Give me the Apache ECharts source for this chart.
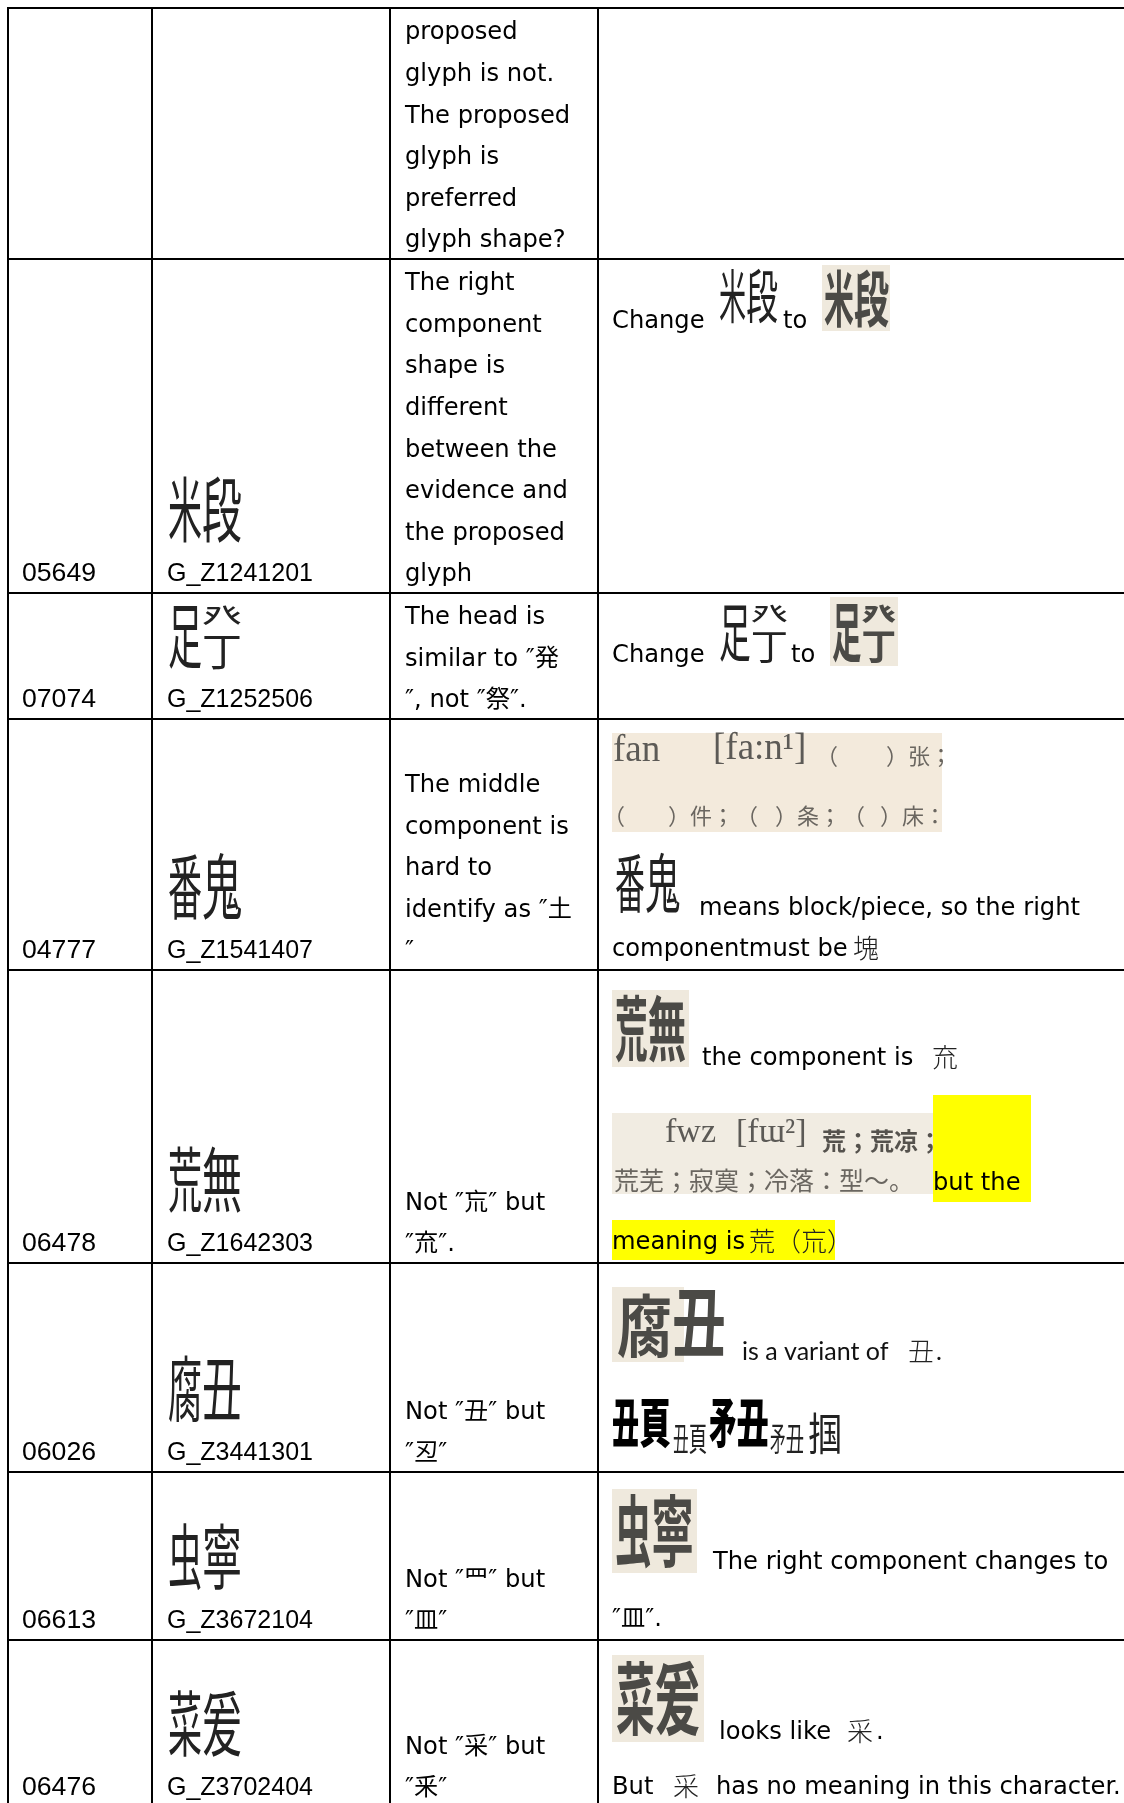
<!DOCTYPE html>
<html>
<head>
<meta charset="utf-8">
<title>Glyph review table</title>
<style>
  html, body { margin: 0; padding: 0; background: #fff; }
  #chart { width: 1124px; height: 1803px; }
</style>
<script src="https://cdn.jsdelivr.net/npm/echarts@6/dist/echarts.min.js"></script>
</head>
<body>
<div id="chart"></div>
<script>
// table content
const serials = ['', '05649', '07074', '04777', '06478', '06026', '06613', '06476']
const glyphIds = ['', 'G_Z1241201', 'G_Z1252506', 'G_Z1541407', 'G_Z1642303', 'G_Z3441301', 'G_Z3672104', 'G_Z3702404']
// proposed glyphs are not encoded, so they are composed: left|right, or left|top/bottom
const glyphParts = ['', '米|段', '足|癶/丁', '番|鬼', '荒|無', '腐|丑', '虫|寧', '菜|爰']
const reviewLines = [
    ['proposed', 'glyph is not.', 'The proposed', 'glyph is', 'preferred', 'glyph shape?'],
    ['The right', 'component', 'shape is', 'different', 'between the', 'evidence and', 'the proposed', 'glyph'],
    ['The head is', 'similar to ″発', '″, not ″祭″.'],
    ['The middle', 'component is', 'hard to', 'identify as ″土', '″'],
    ['Not ″巟″ but', '″㐬″.'],
    ['Not ″丑″ but', '″丒″'],
    ['Not ″罒″ but', '″皿″'],
    ['Not ″采″ but', '″釆″']
]
const noteTexts = [
    [],
    ['Change', '米|段', 'to', '米|段'],
    ['Change', '足|癶/丁', 'to', '足|癶/丁'],
    ['fan', '[fa:n¹]', '（', '）张；', '（', '）件；', '（', '）条；', '（', '）床：', '番|鬼', 'means block/piece, so the right', 'componentmust be', '塊'],
    ['荒|無', 'the component is', '㐬', 'fwz', '[fɯ²]', '荒；荒凉；', '荒芜；寂寞；冷落：型～。', 'but the', 'meaning is', '荒（巟）'],
    ['腐', '丑', 'is a variant of', '丑', '.', '丑|頁', '丑|頁', '矛|丑', '矛|丑', '掴'],
    ['虫|寧', 'The right component changes to', '″皿″.'],
    ['菜|爰', 'looks like', '采', '.', 'But', '采', 'has no meaning in this character.']
]

// layout of the table, in page pixels
const colEdges = [8, 152, 390, 598, 1140]
const rowEdges = [8, 259, 593, 719, 970, 1263, 1472, 1640, 1807]
const textInset = 14
const lineGap = 41.6
const baselineInset = 10

// backing rectangles of the pasted scans and the highlighter: [left, top, right, bottom, colour]
const beige = '#efe9dd'
const yellow = '#ffff00'
const patches = [
    [822, 265, 890, 331, beige],
    [830, 597, 898, 666, beige],
    [612, 733, 942, 832, '#f3eadc'],
    [612, 990, 689, 1067, beige],
    [933, 1095, 1031, 1202, yellow],
    [612, 1113, 933, 1194, '#f1ece2'],
    [612, 1220, 835, 1260, yellow],
    [612, 1287, 684, 1362, beige],
    [612, 1489, 697, 1573, beige],
    [612, 1655, 704, 1742, beige]
]

// where each note text sits, same order as noteTexts: text is [style, x, baseline], glyph is [style, left, top, right, bottom]
const noteSpots = [
    [],
    [['sans', 612, 330], ['print', 719, 267, 778, 325], ['sans', 783, 330], ['scan', 824, 268, 889, 329]],
    [['sans', 612, 664], ['print', 719, 600, 788, 664], ['sans', 791, 664], ['scan', 832, 600, 896, 664]],
    [['serifBig', 613, 762], ['serifBig', 713, 760], ['scanText', 816, 764], ['scanText', 886, 764],
     ['scanText', 603, 824], ['scanText', 668, 824], ['scanText', 736, 824], ['scanText', 775, 824], ['scanText', 843, 824], ['scanText', 880, 824],
     ['print', 615, 851, 680, 915], ['sans', 699, 917], ['sans', 612, 958], ['thin', 853, 958]],
    [['scan', 615, 993, 686, 1064], ['sans', 702, 1067], ['thin', 932, 1067], ['serifMid', 665, 1143], ['serifMid', 736, 1143],
     ['scanDark', 822, 1150], ['scanWide', 614, 1190], ['sans', 933, 1192], ['sans', 612, 1251], ['thin', 749, 1251]],
    [['scan', 617, 1292, 672, 1360], ['scan', 672, 1284, 726, 1360], ['lato', 742, 1361], ['thin', 908, 1361], ['lato', 936, 1361],
     ['bold', 612, 1396, 671, 1449], ['print', 673, 1422, 707, 1455], ['bold', 709, 1396, 769, 1449], ['print', 770, 1422, 804, 1455], ['print', 808, 1411, 842, 1456]],
    [['scan', 615, 1492, 694, 1570], ['sans', 713, 1571], ['sans', 612, 1628]],
    [['scan', 616, 1659, 700, 1738], ['sans', 719, 1741], ['thin', 847, 1741], ['sans', 876, 1741], ['sans', 612, 1796], ['thin', 673, 1796], ['sans', 716, 1796]]
]

const latin = '"DejaVu Sans", "Noto Sans CJK JP", sans-serif'
const digits = '"Liberation Sans", sans-serif'
const cjk = '"Noto Sans CJK JP", "Noto Sans CJK SC", sans-serif'
const serif = '"Liberation Serif", "Noto Sans CJK SC", serif'
// size, family, weight, colour, how far the baseline sits below the em middle, horizontal scale
const textStyles = {
    sans: [24.2, latin, 'normal', '#000', 0.33, 1],
    serial: [25, digits, 'normal', '#000', 0.347, 1.065],
    code: [25, digits, 'normal', '#000', 0.347, 1],
    lato: [25, 'Lato, sans-serif', 'normal', '#111', 0.36, 1],
    thin: [26, cjk, '300', '#222', 0.38, 1],
    serifBig: [37, serif, 'normal', '#5c5a56', 0.3, 1],
    serifMid: [34, serif, 'normal', '#5c5a56', 0.3, 1],
    scanText: [22, cjk, 'normal', '#6a6660', 0.38, 1],
    scanDark: [24, cjk, 'bold', '#55524d', 0.38, 1],
    scanWide: [25, cjk, 'normal', '#6a6660', 0.38, 1]
}
const glyphStyles = {
    print: ['normal', '#222', 0],
    scan: ['bold', '#4b4a46', 2],
    bold: ['900', '#000', 0]
}

const textItems = []
const glyphItems = []

function placeText (style, x, baseline, text) {
    textItems.push({ value: [x, baseline], text, style })
}
function placeGlyph (style, left, top, right, bottom, parts) {
    glyphItems.push({ value: [left, top, right, bottom], parts, style })
}

serials.forEach((serial, row) => {
    const base = rowEdges[row + 1] - baselineInset
    if (serial) {
        placeText('serial', colEdges[0] + textInset, base, serial)
        placeText('code', colEdges[1] + textInset + 1, base, glyphIds[row])
        placeGlyph('print', colEdges[1] + textInset + 2, base - 109, colEdges[1] + textInset + 76, base - 38, glyphParts[row])
    }
    reviewLines[row].forEach((line, i) => {
        placeText('sans', colEdges[2] + textInset + 1, base - (reviewLines[row].length - 1 - i) * lineGap, line)
    })
    noteTexts[row].forEach((text, i) => {
        const spot = noteSpots[row][i]
        if (glyphStyles[spot[0]]) {
            placeGlyph(spot[0], spot[1], spot[2], spot[3], spot[4], text)
        } else {
            placeText(spot[0], spot[1], spot[2], text)
        }
    })
})

const cells = []
for (let row = 0; row < rowEdges.length - 1; row++) {
    for (let col = 0; col < colEdges.length - 1; col++) {
        cells.push([colEdges[col], rowEdges[row], colEdges[col + 1], rowEdges[row + 1]])
    }
}

function renderCell (params, api) {
    const a = api.coord([api.value(0), api.value(1)])
    const b = api.coord([api.value(2), api.value(3)])
    return {
        type: 'rect',
        shape: { x: a[0], y: a[1], width: b[0] - a[0], height: b[1] - a[1] },
        style: { fill: 'none', stroke: '#000', lineWidth: 2 }
    }
}

function renderPatch (params, api) {
    const a = api.coord([api.value(0), api.value(1)])
    const b = api.coord([api.value(2), api.value(3)])
    return {
        type: 'rect',
        shape: { x: a[0], y: a[1], width: b[0] - a[0], height: b[1] - a[1] },
        style: { fill: patches[params.dataIndex][4] }
    }
}

function renderText (params, api) {
    const item = textItems[params.dataIndex]
    const s = textStyles[item.style]
    const p = api.coord([api.value(0), api.value(1)])
    return {
        type: 'text',
        x: p[0],
        y: p[1] - s[0] * s[4],
        scaleX: s[5],
        style: {
            text: item.text,
            font: s[2] + ' ' + s[0] + 'px ' + s[1],
            fill: s[3],
            textAlign: 'left',
            textVerticalAlign: 'middle'
        }
    }
}

// one squeezed character in a box
function squeezed (ch, x, y, w, h, s) {
    return {
        type: 'text',
        x,
        y,
        scaleX: w / h,
        style: {
            text: ch,
            font: s[0] + ' ' + h + 'px ' + cjk,
            fill: s[1],
            textAlign: 'left',
            textVerticalAlign: 'top',
            shadowBlur: s[2],
            shadowColor: s[1]
        }
    }
}

function renderGlyph (params, api) {
    const item = glyphItems[params.dataIndex]
    const s = glyphStyles[item.style]
    const a = api.coord([api.value(0), api.value(1)])
    const b = api.coord([api.value(2), api.value(3)])
    const w = b[0] - a[0]
    const h = b[1] - a[1]
    const parts = item.parts.split('|')
    if (parts.length === 1) {
        return squeezed(parts[0], a[0], a[1], w, h, s)
    }
    const leftW = w * 0.46
    const children = [squeezed(parts[0], a[0], a[1], leftW, h, s)]
    const stack = parts[1].split('/')
    if (stack.length === 2) {
        children.push(squeezed(stack[0], a[0] + leftW, a[1], w - leftW, h * 0.46, s))
        children.push(squeezed(stack[1], a[0] + leftW, a[1] + h * 0.44, w - leftW, h * 0.56, s))
    } else {
        children.push(squeezed(parts[1], a[0] + leftW, a[1], w - leftW, h, s))
    }
    return { type: 'group', children }
}

const chart = echarts.init(document.getElementById('chart'))
chart.setOption({
    animation: false,
    backgroundColor: '#fff',
    grid: { left: 0, right: 0, top: 0, bottom: 0 },
    xAxis: { type: 'value', min: 0, max: 1124, show: false },
    yAxis: { type: 'value', min: 0, max: 1803, inverse: true, show: false },
    series: [
        { type: 'custom', name: 'patches', clip: false, silent: true, renderItem: renderPatch, encode: { x: [0, 2], y: [1, 3] },
            data: patches.map(p => p.slice(0, 4)) },
        { type: 'custom', name: 'cells', clip: false, silent: true, renderItem: renderCell, encode: { x: [0, 2], y: [1, 3] }, data: cells },
        { type: 'custom', name: 'glyphs', clip: false, silent: true, renderItem: renderGlyph, encode: { x: [0, 2], y: [1, 3] },
            data: glyphItems.map(g => g.value) },
        { type: 'custom', name: 'texts', clip: false, silent: true, renderItem: renderText, encode: { x: 0, y: 1 },
            data: textItems.map(t => t.value) }
    ]
})
</script>
</body>
</html>
